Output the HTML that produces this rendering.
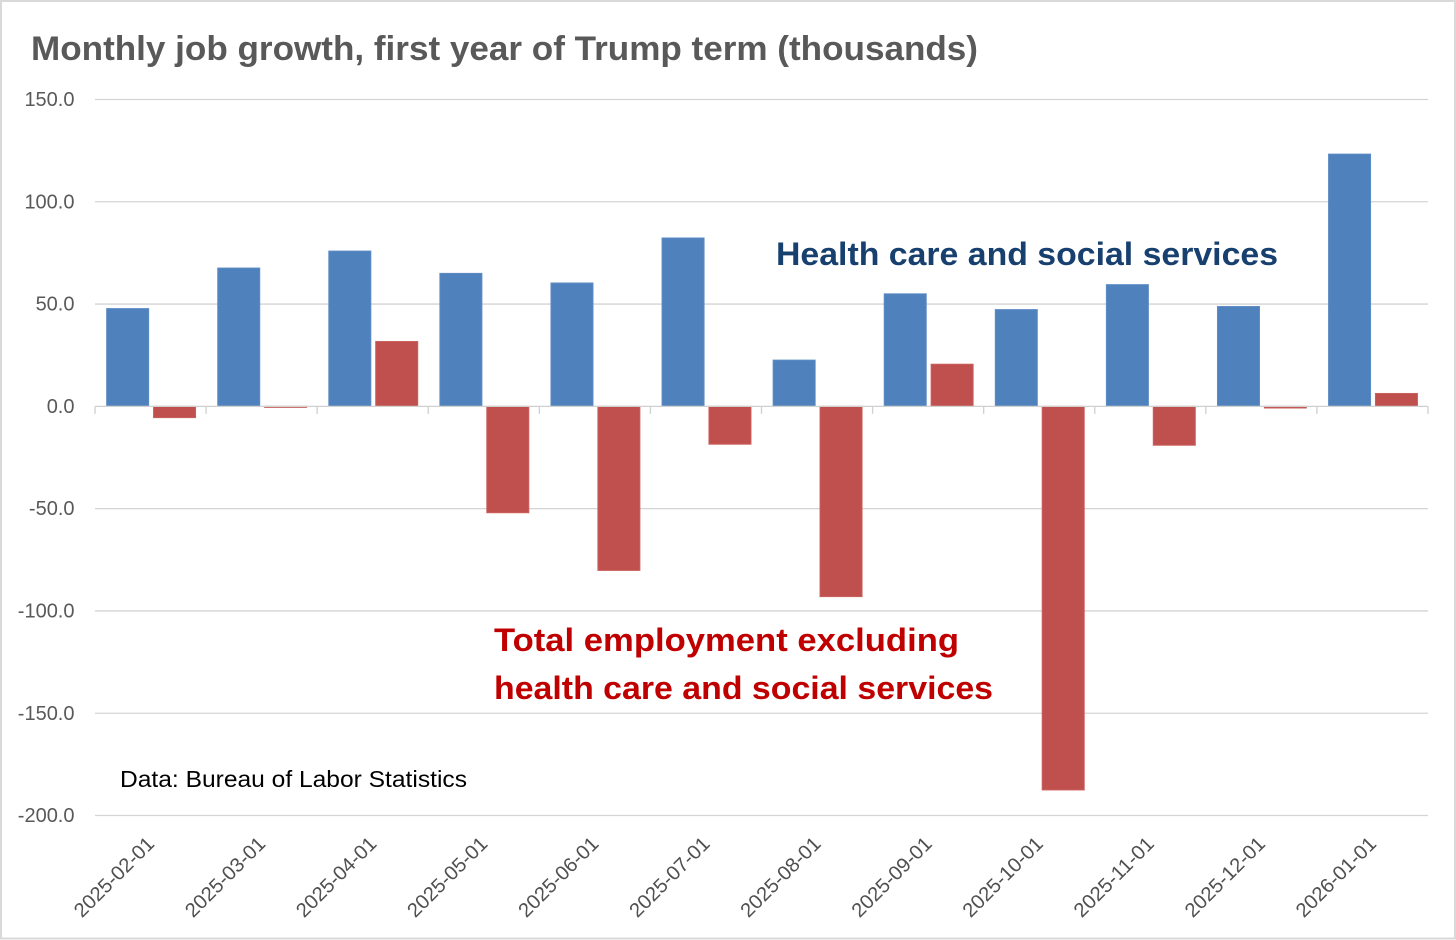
<!DOCTYPE html>
<html lang="en">
<head>
<meta charset="utf-8">
<title>Monthly job growth</title>
<style>
html,body{margin:0;padding:0;background:#fff;}
svg{display:block;font-family:"Liberation Sans",sans-serif;}
</style>
</head>
<body>
<svg id="chart" xmlns="http://www.w3.org/2000/svg" width="1456" height="940" viewBox="0 0 1456 940">
  <rect x="1" y="1" width="1454" height="937.5" fill="#fff" stroke="#d9d9d9" stroke-width="2"/>
  <g id="grid"></g>
  <g id="bars"></g>
  <g id="axis"></g>
  <g id="ylabels"></g>
  <g id="xlabels"></g>
  <text x="31" y="60" font-size="34" font-weight="bold" fill="#595959" textLength="947" lengthAdjust="spacingAndGlyphs">Monthly job growth, first year of Trump term (thousands)</text>
  <text x="776" y="265" font-size="32" font-weight="bold" fill="#17406f" textLength="502" lengthAdjust="spacingAndGlyphs">Health care and social services</text>
  <text x="494" y="651" font-size="32" font-weight="bold" fill="#c00000" textLength="465" lengthAdjust="spacingAndGlyphs">Total employment excluding</text>
  <text x="494" y="699" font-size="32" font-weight="bold" fill="#c00000" textLength="499" lengthAdjust="spacingAndGlyphs">health care and social services</text>
  <text x="120" y="787" font-size="23.5" fill="#000" textLength="347" lengthAdjust="spacingAndGlyphs">Data: Bureau of Labor Statistics</text>
</svg>
<script>
const categories = ["2025-02-01","2025-03-01","2025-04-01","2025-05-01","2025-06-01","2025-07-01","2025-08-01","2025-09-01","2025-10-01","2025-11-01","2025-12-01","2026-01-01"];
const healthCare = [47.8,67.6,75.9,65.0,60.3,82.3,22.6,55.0,47.3,59.5,48.8,123.3];
const totalExHealth = [-5.5,-0.5,31.7,-52.0,-80.2,-18.5,-93.0,20.6,-187.5,-19.0,-0.8,6.3];
const yTicks = [150,100,50,0,-50,-100,-150,-200];

const NS = "http://www.w3.org/2000/svg";
const plotLeft = 95, plotRight = 1428, yTop = 99.5, yBottom = 815.5, yMax = 150, yMin = -200;
const barW = 42, barInset = 43.9, barGap = 3;

function yScale(v){ return yTop + (yMax - v) * (yBottom - yTop) / (yMax - yMin); }
function xBand(i){ return plotLeft + i * (plotRight - plotLeft) / categories.length; }
function xCenter(i){ return xBand(i + 0.5); }
function make(tag, attrs){
  const el = document.createElementNS(NS, tag);
  for (const k in attrs) el.setAttribute(k, attrs[k]);
  return el;
}

const grid = document.getElementById("grid");
const ylabels = document.getElementById("ylabels");
yTicks.forEach(function(t){
  if (t !== 0) {
    const line = make("line", {x1: plotLeft, x2: plotRight, y1: yScale(t), y2: yScale(t), stroke: "#d4d4d4", "stroke-width": 1.3});
    
    
    grid.appendChild(line);
  }
  const label = make("text", {x: 74.5, y: yScale(t) + 6.6, "text-anchor": "end", "font-size": 20, fill: "#595959"});
  
  
  label.textContent = t.toFixed(1);
  ylabels.appendChild(label);
});

const bars = document.getElementById("bars");
function drawBar(x, v, fill, stroke, name){
  const y0 = yScale(0), y1 = yScale(v);
  const rect = make("rect", {x: x, y: Math.min(y0, y1), width: barW, height: Math.max(Math.abs(y1 - y0), 1), fill: fill, stroke: stroke, "stroke-width": 1});
  
  
  bars.appendChild(rect);
}
categories.forEach(function(c, i){
  drawBar(xCenter(i) - barInset, healthCare[i], "#4f81bd", "#5d8cc4", "health-care-bar");
  drawBar(xCenter(i) + barGap, totalExHealth[i], "#c0504d", "#c9605d", "total-excluding-health-bar");
});

const axis = document.getElementById("axis");
const axisLine = make("line", {x1: plotLeft, x2: plotRight, y1: yScale(0), y2: yScale(0), stroke: "#d0d0d0", "stroke-width": 1.3});


axis.appendChild(axisLine);
for (let i = 0; i <= categories.length; i++) {
  const tick = make("line", {x1: xBand(i), x2: xBand(i), y1: yScale(0), y2: yScale(0) + 7.5, stroke: "#d0d0d0", "stroke-width": 1.3});
  
  
  axis.appendChild(tick);
}

const xlabels = document.getElementById("xlabels");
categories.forEach(function(c, i){
  const ax = xCenter(i) + 5, ay = 845;
  const label = make("text", {x: ax, y: ay, "text-anchor": "end", "font-size": 20, fill: "#505050", transform: "rotate(-45 " + ax + " " + ay + ")", textLength: 104, lengthAdjust: "spacingAndGlyphs"});
  
  
  label.textContent = c;
  xlabels.appendChild(label);
});
</script>
</body>
</html>
